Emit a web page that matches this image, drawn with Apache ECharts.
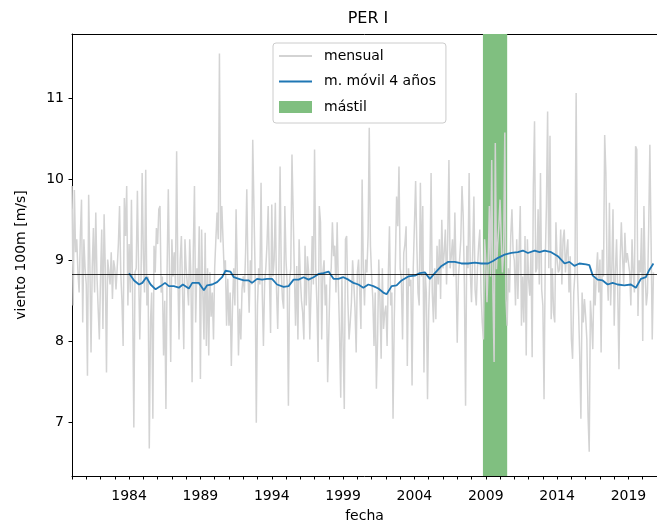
<!DOCTYPE html>
<html>
<head>
<meta charset="utf-8">
<script src="https://cdn.jsdelivr.net/npm/echarts@6/dist/echarts.min.js"></script>
<style>html,body{margin:0;padding:0;background:#fff}#c{width:657px;height:528px}</style>
</head>
<body>
<div id="c"></div>
<script>
// ---- data ----
const startYear = 1980; // first monthly value = Jan 1980
const mensual = [
  9.92, 8.44, 9.87, 9.1, 9.26, 8.85, 8.6, 9.3, 9.75, 8.23, 9.26, 8.9,      // 1980
  8.7, 7.57, 9.81, 9.0, 7.86, 8.9, 9.40, 8.6, 9.59, 8.8, 8.4, 8.02,        // 1981
  8.8, 9.38, 8.15, 9.57, 8.9, 7.61, 9.01, 8.85, 8.7, 9.1, 8.52, 9.0,       // 1982
  8.9, 8.64, 8.9, 9.2, 9.67, 8.85, 8.5, 7.94, 9.77, 9.3, 9.92, 8.44,       // 1983
  9.2, 8.6, 9.75, 8.5, 6.93, 8.85, 8.9, 9.86, 8.9, 8.02, 8.7, 10.08,       // 1984
  9.05, 8.6, 10.12, 8.44, 8.8, 6.67, 8.23, 8.6, 7.04, 9.18, 8.85, 9.4,     // 1985
  9.2, 9.63, 9.67, 8.6, 8.8, 7.82, 8.5, 7.16, 8.9, 9.88, 8.85, 7.74,       // 1986
  9.26, 8.8, 9.1, 8.7, 10.35, 8.85, 8.02, 9.0, 9.30, 8.6, 7.9, 9.26,       // 1987
  8.9, 8.7, 8.44, 9.26, 8.8, 7.49, 9.1, 9.92, 8.23, 8.9, 8.7, 9.42,        // 1988
  7.53, 9.38, 8.6, 8.02, 9.34, 7.94, 8.9, 7.82, 8.85, 8.3, 8.6, 8.02,      // 1989
  8.9, 9.26, 9.59, 9.26, 11.56, 9.22, 9.67, 9.26, 8.85, 9.0, 8.19, 8.77,   // 1990
  8.19, 8.6, 7.69, 8.44, 8.9, 8.44, 9.63, 8.85, 7.82, 8.4, 8.02, 8.64,     // 1991
  8.8, 8.6, 9.1, 9.88, 8.85, 8.35, 9.0, 8.7, 10.49, 9.67, 8.85, 6.99,      // 1992
  8.44, 8.9, 8.7, 9.96, 8.6, 7.94, 8.72, 8.9, 9.2, 9.67, 8.85, 8.1,        // 1993
  9.69, 8.8, 9.0, 9.71, 8.64, 8.15, 8.9, 10.16, 8.85, 8.52, 8.4, 9.67,     // 1994
  9.0, 8.7, 7.20, 8.76, 8.9, 10.31, 9.59, 8.85, 8.19, 8.93, 8.02, 9.26,    // 1995
  8.8, 8.5, 8.35, 8.02, 9.18, 8.44, 9.05, 8.85, 8.02, 8.6, 9.3, 8.7,       // 1996
  10.37, 8.9, 8.44, 7.74, 9.67, 9.47, 8.02, 8.85, 9.0, 8.44, 8.7, 7.49,    // 1997
  8.11, 8.76, 8.9, 9.47, 9.05, 9.18, 8.6, 9.47, 8.7, 8.11, 7.3, 8.8,       // 1998
  8.8, 7.16, 9.26, 9.30, 8.5, 8.02, 8.23, 8.48, 9.0, 8.72, 8.4, 7.86,      // 1999
  8.85, 9.01, 8.6, 8.15, 10.0, 8.9, 8.44, 9.01, 8.85, 9.3, 10.64, 9.18,    // 2000
  8.8, 8.52, 7.94, 8.6, 7.41, 8.02, 9.01, 8.5, 7.78, 8.9, 8.15, 8.35,      // 2001
  8.44, 7.94, 8.8, 9.42, 8.44, 8.6, 7.04, 8.23, 9.0, 9.79, 9.42, 10.16,    // 2002
  8.9, 8.76, 8.02, 9.09, 9.2, 9.42, 7.69, 8.9, 8.68, 8.76, 7.45, 8.9,      // 2003
  8.89, 9.98, 9.18, 8.6, 8.44, 9.96, 8.8, 9.67, 7.61, 8.85, 8.6, 7.28,     // 2004
  8.35, 8.85, 10.08, 8.6, 8.23, 8.9, 8.27, 9.18, 8.7, 9.26, 8.52, 9.5,     // 2005
  8.9, 9.09, 9.38, 8.7, 9.26, 10.24, 8.9, 9.05, 9.26, 8.8, 9.59, 8.85,     // 2006
  7.98, 8.8, 9.01, 9.26, 9.92, 9.55, 8.7, 7.2, 9.18, 8.9, 10.08, 8.85,     // 2007
  8.48, 9.1, 9.79, 8.64, 8.44, 8.9, 9.18, 9.38, 8.6, 8.23, 8.02, 9.26,     // 2008
  9.0, 8.48, 8.93, 9.67, 8.8, 10.24, 8.6, 7.74, 10.45, 8.89, 9.2, 9.42,    // 2009
  9.75, 9.26, 8.85, 9.1, 10.58, 8.52, 8.19, 8.9, 8.6, 9.3, 9.63, 9.09,     // 2010
  9.0, 8.44, 9.26, 8.52, 9.1, 9.67, 8.19, 8.8, 8.23, 9.3, 7.82, 9.26,      // 2011
  8.76, 8.56, 9.1, 7.8, 9.92, 10.72, 8.85, 8.9, 9.63, 8.7, 10.08, 8.64,    // 2012
  8.44, 7.28, 9.0, 9.67, 10.84, 8.9, 10.54, 8.27, 8.9, 8.35, 8.23, 9.47,   // 2013
  9.0, 8.85, 8.89, 9.38, 8.7, 9.26, 9.38, 8.85, 9.1, 9.26, 8.6, 9.05,      // 2014
  8.02, 7.78, 8.6, 8.85, 11.07, 8.85, 8.4, 7.82, 7.04, 8.6, 8.23, 8.52,    // 2015
  8.3, 8.02, 7.08, 6.63, 8.5, 8.23, 7.9, 8.8, 8.44, 8.85, 9.1, 8.6,        // 2016
  9.01, 7.86, 9.13, 8.8, 10.55, 10.08, 8.85, 8.5, 9.71, 8.44, 8.9, 9.63,   // 2017
  8.19, 8.85, 9.26, 8.6, 7.65, 9.0, 9.47, 9.05, 8.7, 9.34, 8.97, 9.09,     // 2018
  9.1, 8.85, 8.44, 9.26, 8.85, 8.6, 10.41, 10.37, 8.31, 9.0, 8.85, 9.4,    // 2019
  8.0, 9.67, 8.85, 8.44, 8.6, 9.4, 10.43, 9.26, 8.02, 8.85                 // 2020
];

// 4-year moving average
const maYears = [1984.0, 1984.12, 1984.35, 1984.70, 1984.93, 1985.21, 1985.51, 1985.86, 1986.21, 1986.52,
  1986.79, 1987.14, 1987.49, 1987.77, 1988.19, 1988.43, 1988.89, 1989.24, 1989.47, 1989.82,
  1990.17, 1990.52, 1990.76, 1991.10, 1991.34, 1991.69, 1992.04, 1992.39, 1992.62, 1992.97,
  1993.32, 1993.67, 1994.02, 1994.37, 1994.83, 1995.18, 1995.53, 1995.88, 1996.23, 1996.58,
  1996.93, 1997.28, 1997.63, 1997.98, 1998.33, 1998.67, 1999.02, 1999.37, 1999.72, 2000.07,
  2000.42, 2000.77, 2001.12, 2001.47, 2001.82, 2002.05, 2002.40, 2002.75, 2003.10, 2003.57,
  2004.03, 2004.38, 2004.73, 2005.08, 2005.43, 2005.90, 2006.36, 2006.83, 2007.29, 2007.76,
  2008.23, 2008.69, 2009.16, 2009.51, 2009.86, 2010.32, 2010.79, 2011.25, 2011.60, 2011.95,
  2012.42, 2012.77, 2013.12, 2013.58, 2014.05, 2014.52, 2014.86, 2015.21, 2015.56, 2016.03,
  2016.26, 2016.50, 2016.84, 2017.19, 2017.54, 2017.89, 2018.24, 2018.71, 2019.17, 2019.52,
  2019.87, 2020.22, 2020.46, 2020.75];
const maValues = [8.84, 8.84, 8.75, 8.70, 8.72, 8.79, 8.70, 8.64, 8.68, 8.72,
  8.68, 8.68, 8.66, 8.70, 8.65, 8.72, 8.72, 8.63, 8.69, 8.70,
  8.73, 8.79, 8.87, 8.86, 8.79, 8.77, 8.75, 8.75, 8.72, 8.77,
  8.76, 8.77, 8.77, 8.70, 8.67, 8.68, 8.76, 8.76, 8.79, 8.76,
  8.79, 8.83, 8.84, 8.86, 8.77, 8.77, 8.79, 8.76, 8.72, 8.70,
  8.66, 8.70, 8.68, 8.65, 8.60, 8.58, 8.68, 8.69, 8.75, 8.80,
  8.81, 8.84, 8.85, 8.77, 8.84, 8.93, 8.98, 8.98, 8.96, 8.96,
  8.97, 8.96, 8.96, 8.99, 9.03, 9.07, 9.09, 9.10, 9.12, 9.09,
  9.12, 9.10, 9.12, 9.10, 9.05, 8.96, 8.98, 8.93, 8.96, 8.95,
  8.94, 8.81, 8.76, 8.75, 8.70, 8.72, 8.70, 8.69, 8.70, 8.66,
  8.77, 8.79, 8.88, 8.96];

const referencia = 8.83;             // horizontal reference line
const mastil = [2008.8, 2010.5];     // mast period
const xTickLabels = [1984, 1989, 1994, 1999, 2004, 2009, 2014, 2019];
const xTickYears = [1980, 1981, 1982, 1983, 1984, 1985, 1986, 1987, 1988, 1989, 1990, 1991, 1992, 1993,
  1994, 1995, 1996, 1997, 1998, 1999, 2000, 2001, 2002, 2003, 2004, 2005, 2006, 2007, 2008, 2009,
  2010, 2011, 2012, 2013, 2014, 2015, 2016, 2017, 2018, 2019, 2020];
const yTickLabels = [7, 8, 9, 10, 11];

// ---- chart ----
const font = 'DejaVu Sans';
const chart = echarts.init(document.getElementById('c'), null, {renderer: 'canvas'});
const monthlyData = mensual.map((v, i) => [startYear + i / 12, v]);
const maData = maYears.map((y, i) => [y, maValues[i]]);

chart.setOption({
  animation: false,
  backgroundColor: '#fff',
  textStyle: {fontFamily: font},
  title: {
    text: 'PER I', left: 363, top: 6, textAlign: 'center',
    textStyle: {fontFamily: font, fontSize: 16, fontWeight: 'normal', color: '#000'}
  },
  grid: {left: 72, right: -2, top: 34, bottom: 51, containLabel: false},
  legend: {
    orient: 'vertical', left: 273, top: 43,
    padding: [6, 10, 9, 5], itemGap: 11.5, itemWidth: 33, itemHeight: 12,
    borderColor: '#cccccc', borderWidth: 1, borderRadius: 3,
    backgroundColor: 'rgba(255,255,255,0.8)',
    textStyle: {fontFamily: font, fontSize: 14, color: '#000', padding: [0, 0, 0, 7]},
    selectedMode: false,
    data: [
      {name: 'mensual', itemStyle: {opacity: 0}},
      {name: 'm. móvil 4 años', itemStyle: {opacity: 0}},
      {name: 'mástil', icon: 'rect', itemStyle: {color: '#80bf80'}}
    ]
  },
  xAxis: [{
    type: 'value', min: 1980, max: 2021,
    name: 'fecha', nameLocation: 'middle', nameGap: 33,
    nameTextStyle: {fontFamily: font, fontSize: 14, color: '#000'},
    axisLine: {show: true, onZero: false, lineStyle: {color: '#000', width: 1}},
    axisTick: {show: true, length: 3.5, customValues: xTickYears, lineStyle: {color: '#000', width: 1}},
    axisLabel: {
      fontFamily: font, fontSize: 14, color: '#000', margin: 13,
      customValues: xTickLabels, formatter: v => String(v)
    },
    splitLine: {show: false}
  }, {
    type: 'value', min: 1980, max: 2021, position: 'top',
    axisLine: {show: true, onZero: false, lineStyle: {color: '#000', width: 1}},
    axisTick: {show: false}, axisLabel: {show: false}, splitLine: {show: false}
  }],
  yAxis: {
    type: 'value', min: 6.33, max: 11.8,
    name: 'viento 100m [m/s]', nameLocation: 'middle', nameGap: 44,
    nameTextStyle: {fontFamily: font, fontSize: 14, color: '#000'},
    axisLine: {show: true, onZero: false, lineStyle: {color: '#000', width: 1}},
    axisTick: {show: true, length: 3.5, customValues: yTickLabels, lineStyle: {color: '#000', width: 1}},
    axisLabel: {
      fontFamily: font, fontSize: 14, color: '#000', margin: 8,
      customValues: yTickLabels, formatter: v => String(v)
    },
    splitLine: {show: false}
  },
  series: [
    {
      name: 'mástil', type: 'line', data: [], z: 1,
      symbol: 'none', itemStyle: {color: '#80bf80'},
      markArea: {
        silent: true,
        itemStyle: {color: '#80bf80', opacity: 1},
        data: [[{xAxis: mastil[0]}, {xAxis: mastil[1]}]]
      }
    },
    {
      name: 'mensual', type: 'line', data: monthlyData, z: 2,
      symbol: 'none', showSymbol: false,
      lineStyle: {color: '#d3d3d3', width: 1.5}, itemStyle: {color: '#d3d3d3'},
      markLine: {
        silent: true, symbol: 'none', label: {show: false},
        lineStyle: {color: '#000', width: 0.8, type: 'solid'},
        data: [{yAxis: referencia}]
      }
    },
    {
      name: 'm. móvil 4 años', type: 'line', data: maData, z: 3,
      symbol: 'none', showSymbol: false,
      lineStyle: {color: '#1f77b4', width: 1.8}, itemStyle: {color: '#1f77b4'}
    }
  ]
});
</script>
</body>
</html>
